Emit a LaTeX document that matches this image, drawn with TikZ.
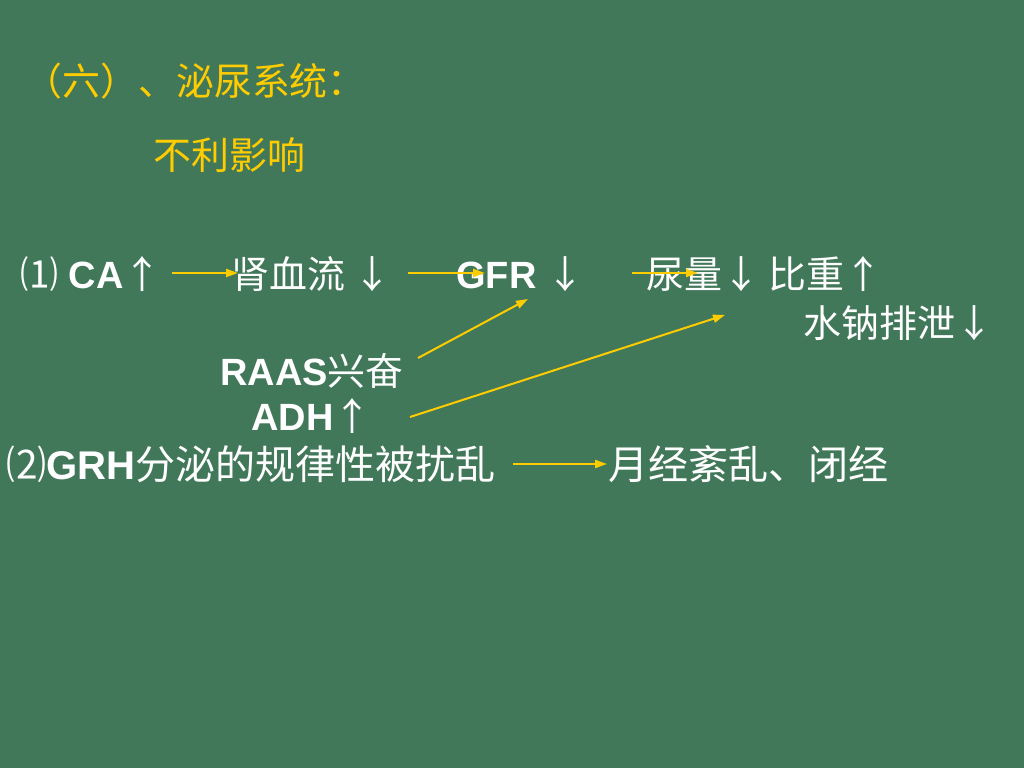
\documentclass[tikz,border=0pt]{standalone}
\usepackage{fontspec}
\setmainfont{Liberation Sans}
\newfontfamily\cjk{Noto Sans CJK SC}
\usetikzlibrary{arrows.meta}
\definecolor{board}{RGB}{66,120,90}
\definecolor{chalk}{RGB}{255,204,0}
\newcommand{\zh}[1]{{\cjk #1}}

\begin{document}
\begin{tikzpicture}[x=0.25mm,y=-0.25mm]

        \fill[board] (0,0) rectangle (1024,768);

        \begin{scope}[every node/.style={anchor=west, inner sep=0pt, text=white,
            text height=24pt, text depth=2.6pt, font=\fontsize{27pt}{32pt}\selectfont}]
          \node[text=chalk] (title) at (24,80)  {\zh{（六）、泌尿系统：}};
          \node[text=chalk] (buli)  at (153,154) {\zh{不利影响}};
          \node (ca)   at (20,273)  {\zh{⑴} \textbf{CA}\zh{↑}};
          \node (ren)  at (231,273) {\zh{肾血流 ↓}};
          \node (gfr)  at (456,273) {\textbf{GFR} \zh{↓}};
          \node (niao) at (646,273) {\zh{尿量↓ 比重↑}};
          \node (shui) at (803,322) {\zh{水钠排泄↓}};
          \node (raas) at (220,370) {\textbf{RAAS}\zh{兴奋}};
          \node (adh)  at (251,415) {\textbf{ADH}\zh{↑}};
          \node[font=\fontsize{28.5pt}{33pt}\selectfont] (grh) at (6,464) {\zh{⑵}\textbf{GRH}\zh{分泌的规律性被扰乱}};
          \node[font=\fontsize{28.5pt}{33pt}\selectfont] (yue) at (608,464) {\zh{月经紊乱、闭经}};
        \end{scope}

        \begin{scope}[every edge/.style={draw, chalk, line width=0.5mm,
            -{Triangle[length=3mm,width=2mm]}}]
          \path ([xshift=-14.75mm]ren.west) edge ([xshift=1.75mm]ren.west);
          \path ([xshift=-12mm]gfr.west)    edge ([xshift=7.25mm]gfr.west);
          \path ([xshift=-3.5mm]niao.west)  edge ([xshift=13mm]niao.west);
          \path ([xshift=49.5mm,yshift=3mm]raas.west)   edge ([xshift=18mm,yshift=-6.5mm]gfr.west);
          \path ([xshift=39.75mm,yshift=-0.5mm]adh.west) edge ([xshift=-19.5mm,yshift=1.75mm]shui.west);
          \path ([xshift=-23.75mm]yue.west) edge ([xshift=-0.25mm]yue.west);
        \end{scope}

      \end{tikzpicture}
\end{document}
